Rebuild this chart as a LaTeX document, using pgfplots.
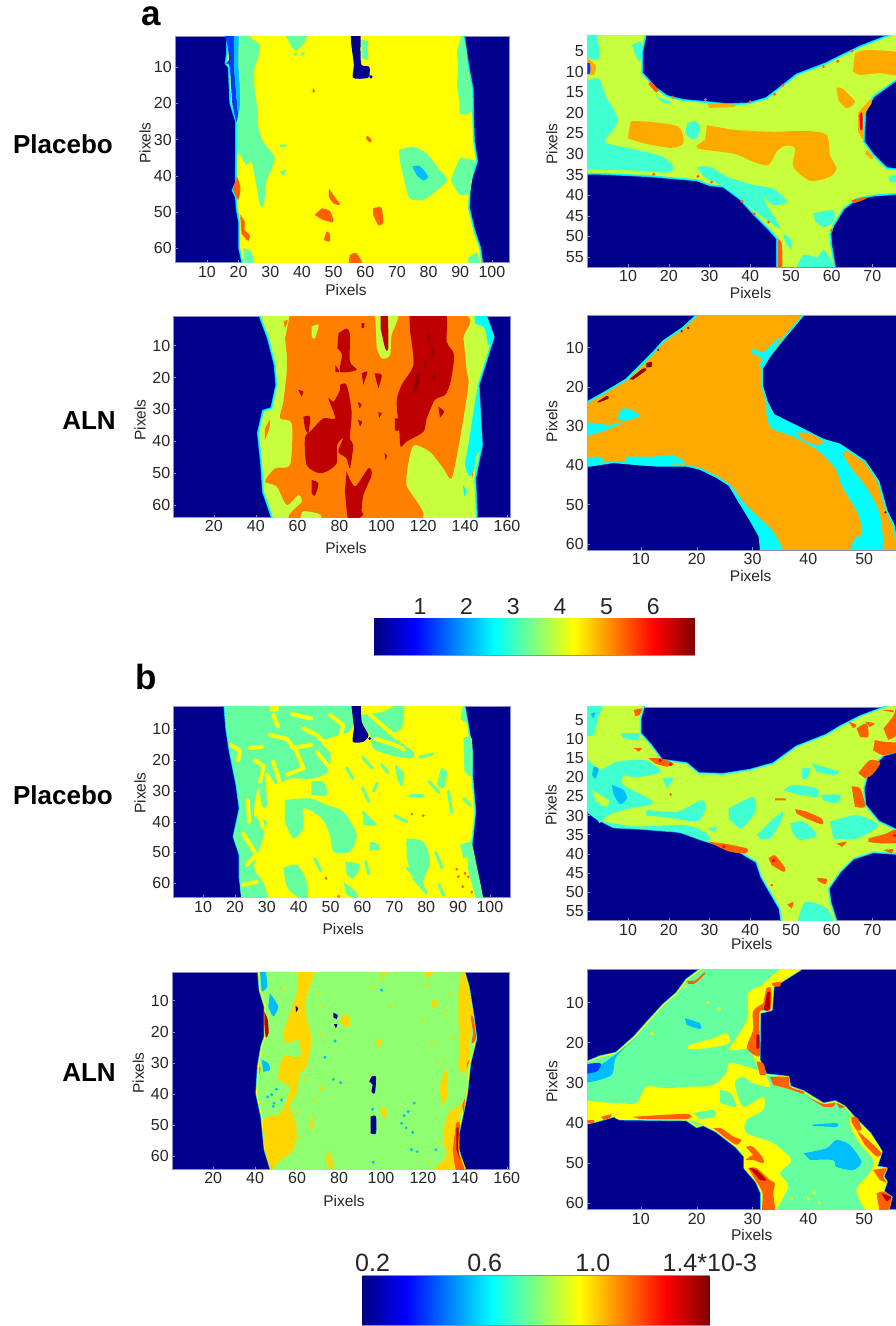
\documentclass[border=0pt]{standalone}
\usepackage{pgfplots}
\usepackage{fontspec}
\setmainfont{Liberation Sans}
\pgfplotsset{compat=1.18}
\definecolor{nv}{RGB}{0,0,140}
\definecolor{gA}{RGB}{102,255,160}
\definecolor{lm}{RGB}{200,255,60}
\definecolor{tl}{RGB}{64,255,208}
\definecolor{ora}{RGB}{255,170,0}
\definecolor{orb}{RGB}{255,128,0}
\definecolor{orc}{RGB}{255,96,0}
\definecolor{drd}{RGB}{191,0,0}
\definecolor{ddr}{RGB}{150,0,0}
\definecolor{cy}{RGB}{0,255,255}
\definecolor{sky}{RGB}{0,190,255}
\definecolor{bl}{RGB}{0,60,255}
\definecolor{gB}{RGB}{144,255,112}
\definecolor{gd}{RGB}{255,215,0}
\definecolor{yl}{RGB}{255,255,0}
\definecolor{frm}{RGB}{140,140,190}
\newcommand{\poly}[2]{\addplot[draw=none,fill=#1,smooth,tension=.45] coordinates {#2} --cycle;}
\newcommand{\body}[4]{\addplot[fill=#1,draw=#2,line width=1.2pt,line join=round,preaction={draw=#3,line width=2.6pt}] coordinates {#4} --cycle;}
\newcommand{\spots}[3]{\addplot[only marks,mark=*,mark size=#2,color=#1,mark options={draw=none,fill=#1}] coordinates {#3};}
\newcommand{\streaks}[3]{\addplot[color=#1,line width=#2,line cap=round,line join=round,unbounded coords=jump] coordinates {#3};}
\pgfplotsset{
 panel/.style={scale only axis,y dir=reverse,axis background/.style={fill=nv},
  axis line style={color=frm,line width=.5pt},
  tick style={color=frm,line width=.4pt},major tick length=2.5pt,tick align=inside,
  xtick pos=bottom,ytick pos=left,
  /pgf/number format/assume math mode=true,
  tick label style={font=\fontsize{16}{18}\selectfont,text=black!85},
  label style={font=\fontsize{15.5}{17}\selectfont,text=black!85},
  xlabel=Pixels,ylabel=Pixels,anchor=north west,clip=true},
 xl/.style 2 args={x label style={at={(axis description cs:#1,#2)},anchor=center}},
 yl/.style 2 args={y label style={at={(axis description cs:#1,#2)},anchor=center}},
 cbar/.style={scale only axis,anchor=north west,colormap/jet,
  axis line style={color=frm,line width=.5pt},tick style={color=black!60,line width=.5pt},
  major tick length=3pt,tick align=inside,ytick=\empty,ymin=0,ymax=1,
  xticklabel pos=upper,xtick pos=both,
  /pgf/number format/assume math mode=true},
}
\begin{document}
\begin{tikzpicture}[x=1pt,y=1pt]
\useasboundingbox (0,0) rectangle (896,1326);
% ---------- a, placebo, left
\begin{axis}[panel,at={(175.3pt,1289.7pt)},width=334pt,height=226pt,xmin=0,xmax=105.5,ymin=1.5,ymax=63.9,
 xtick={10,20,...,100},ytick={10,20,...,60},xl={.511}{-.1226},yl={-.0907}{.528}]
\body{yl}{cy}{sky}{(16.5,1)(16.5,6)(16,9)(17,10)(17.5,20)(19.3,25)(19.3,35)(19.2,42)(18.2,44)(19.3,46)(19.5,49)(20.3,53)(20.3,60)(21.5,65)(97,65)(96.2,60)(94.3,55)(92.7,49)(93,42)(95.2,36)(94.2,30)(94,24)(93.8,16)(92.5,10)(91,1)}
\poly{bl}{(15.6,1)(19,1)(18.5,8)(19.5,20)(20,25)(19.3,25)(18,20)(17.2,10)(16,9)(17,8)(16.5,4)}
\poly{sky}{(18.5,1)(20,1)(20,10)(21,20)(20.3,25)(19.5,20)(18.5,10)}
\poly{gA}{(20,0)(22.7,0)(24,2)(26.7,3.9)(26.1,7.5)(25,10.3)(25,15.8)(26.1,22.3)(26.1,26)(27.7,30.6)(31.4,35.2)(28.8,41.6)(28,48)(26.7,48)(25.6,42.5)(24,36)(22.4,37)(20.3,34)(19.5,33)(19.5,25)(20.5,20)(20,10)}
\poly{gA}{(34,0)(42,0)(40.5,3.5)(38,5.5)(36.5,4)}
\poly{gA}{(37,6.2)(38.5,6.2)(38,7)}
\poly{gA}{(39.5,6)(41,6)(40,7)}
\poly{gA}{(58.7,2.5)(61,3)(60.5,5)(61,8)(59,7.5)}
\poly{gA}{(90.7,0)(92,6)(92.5,12)(93.5,16)(93.7,22)(90,23)(89.8,20)(89,15)(89.3,10)(89,6)(89.5,4)}
\poly{gA}{(70.7,32.9)(75.1,32)(79.3,33.8)(83,37.9)(85.9,41.2)(81.5,44.8)(78.3,46.7)(74,46.2)(72.2,40.7)(70.9,36)}
\poly{sky}{(74.9,37.5)(77.2,37.3)(79.9,40.2)(78.3,41.3)(76.2,39.8)}
\poly{gA}{(87.2,40.7)(89.9,35.2)(91.5,35.2)(94.6,36)(94.1,38.9)(93,44.4)(89.9,45.3)(87.2,41.6)}
\poly{gA}{(33,38.9)(35,38.4)(34.5,39.8)(33.5,39.5)}
\poly{gA}{(33,31.4)(35,31.4)(35,32)(33,32)}
\poly{gA}{(21.4,60)(24,61)(25,65)(22,65)}
\poly{gA}{(92.5,62.8)(95.2,61.2)(96.2,65)(92.5,65)}
\poly{nv}{(55.3,0)(58.3,0)(58.5,5.7)(58.8,9.4)(61.2,9.9)(61.4,11.7)(60.8,13)(56.2,13)(56.4,9.4)(55.6,3.9)}
\spots{nv}{1.5pt}{(61.8,12.7)}
\poly{orc}{(19.5,40.2)(20.6,43.5)(19.8,46.7)(18.2,43.7)}
\poly{orc}{(20.5,50.8)(21.9,52.7)(21.9,55)(23.5,56.4)(23,58)(20.9,56)}
\poly{orc}{(48.5,43.5)(49.9,45.3)(52,48)(49.9,47.6)(48.5,45.8)}
\poly{orc}{(46.2,49)(48.8,49.7)(49.9,52.7)(46.7,52.2)(44,50.8)}
\poly{orc}{(47.7,55.4)(48.8,56)(48.8,58.2)(46.9,57.7)}
\poly{orc}{(62.5,49)(65.1,48.8)(65.6,53.1)(64.1,53.6)(62.5,50.8)}
\poly{orc}{(55.1,61.9)(57.2,61.4)(59.3,65)(54.6,65)}
\poly{orc}{(60.6,28.9)(62,30.1)(61.4,30.8)(60.2,29.7)}
\poly{orc}{(43.5,15.8)(44.2,16.8)(43.3,17)}
\end{axis}
% ---------- a, placebo, right
\begin{axis}[panel,at={(587.3pt,1290.7pt)},width=308.7pt,height=231.7pt,xmin=0,xmax=75.8,ymin=1.2,ymax=57.4,
 xtick={10,20,...,70},ytick={5,10,...,55},xl={.529}{-.111},yl={-.115}{.531}]
\body{lm}{cy}{sky}{(-1,0)(14.5,0)(13.4,5.2)(13.4,10.4)(16.7,14)(19.5,16)(23.6,17)(29.4,17.5)(34.3,18)(39.6,17.8)(44,16.5)(47.3,14)(51.4,10.8)(58.8,8)(62,6.4)(67,4)(73.5,1.5)(77,0)(77,11.5)(75.1,12.5)(70.2,16)(68.2,19.7)(68,23)(67.8,27)(70.2,30.3)(73.5,33.5)(77,33.9)(77,39.5)(70.2,40)(66.1,40.8)(62.9,43.2)(60.4,47.2)(59.6,49.3)(59.8,52)(60.8,58)(46.7,58)(46.7,50.5)(44.9,48.5)(40.8,44.4)(37.5,40.8)(33.4,37.8)(30.2,37.5)(26.9,36.3)(21.2,35.8)(15.5,35.3)(3.2,34.7)(-1,34.7)}
\poly{tl}{(-1,0)(2,0)(3,6.5)(1,7)(-1,6)}
\poly{tl}{(-1,12.5)(2.8,11.7)(4.4,15.7)(7.5,21.4)(6,24.6)(4.4,27.2)(12.2,29)(18.7,30.7)(21.2,33.5)(19,34.5)(12,34)(3,33.8)(-1,33.5)}
\poly{tl}{(11,3.6)(13.4,2.8)(13,7.6)(11.8,6)}
\poly{tl}{(17,16.1)(20.7,17.5)(18.7,17.7)}
\poly{tl}{(24.5,22.5)(26.5,22)(27.7,23.5)(27,26)(25.5,26.3)(24,25)}
\poly{tl}{(26.9,33.1)(30.2,33.1)(34.3,35.5)(40.8,37.5)(45.7,38.4)(49,41.6)(45.7,42.4)(43.3,40.4)(44.1,42.4)(47.3,48)(40.8,43.6)(36.7,40)(32.6,37.5)(28.5,35.5)}
\poly{tl}{(55.5,44.4)(60.4,43.6)(60.4,46.4)(58,47.7)(56,46.4)}
\poly{tl}{(48,49.3)(49.8,50.5)(50.2,53)(49,52.1)}
\poly{tl}{(51,58.5)(53,54.5)(56.3,55)(58,53.3)(59.6,55.3)(60.8,58.5)}
\poly{tl}{(73.9,35.5)(76.5,35.3)(76.5,36.7)(74.3,36.7)}
\poly{ora}{(10.7,22)(15.5,22.2)(22.4,23.4)(23.6,27.4)(20.4,28.5)(13.8,27.4)(9.9,26.2)}
\poly{ora}{(29.4,23)(36.7,24.2)(45.7,24.6)(53.9,24.4)(58.8,25.4)(59.6,30.3)(61.2,33.5)(59.6,35.5)(54.7,36.5)(50.6,33.1)(51,28.6)(48.6,28)(46.5,29.4)(44.5,32.7)(40.8,31.9)(35.9,29.9)(26.9,28.6)(28.9,26.6)}
\poly{ora}{(65.7,5.6)(68.6,4.8)(77,5.6)(77,10.8)(71.9,10.4)(67,10.8)(65.2,10)}
\poly{ora}{(61.2,14)(62.5,14)(65.7,17.3)(63.7,18.9)(61.6,16.9)}
\poly{ora}{(66.5,20)(69.4,16.9)(69.8,17.7)(67.8,21)(67.8,26.5)(66.5,24.6)}
\poly{red}{(66.8,20.5)(67.5,20)(67.6,24)(67,24)}
\poly{ora}{(-1,6)(2,8.4)(1.6,10.8)(-1,10.4)}
\poly{bl}{(-1,8)(.6,8)(.6,10.5)(-1,10.5)}
\poly{ora}{(29.4,17.7)(35.9,18)(35.9,18.6)(30,18.8)}
\poly{orc}{(46.8,50.5)(47.8,52)(47.8,58.5)(46.8,58.5)}
\poly{ora}{(68.6,29)(70.2,30.7)(69.8,31.3)(68.2,29.9)}
\poly{orc}{(64.9,41.2)(68.2,40.4)(68.6,40.8)(65.4,42)}
\poly{orc}{(15.5,12.5)(17.5,14.5)(16.8,15)(15,13)}
\spots{orc}{1.3pt}{(16.3,34.9)(27.2,35.4)(30.5,36.8)(21,16.2)(29,16.8)(40,17.3)(46,15.5)(48,13.3)(58,8.8)(61.5,7.5)(65,5)(60,48.5)(41,44.5)(38,41.5)(44.5,46.5)}
\end{axis}
% ---------- a, ALN, left
\begin{axis}[panel,at={(173.7pt,1009.3pt)},width=336.6pt,height=200.6pt,xmin=.8,xmax=161.6,ymin=.9,ymax=63.9,
 xtick={20,40,...,160},ytick={10,20,...,60},xl={.512}{-.1515},yl={-.100}{.485}]
\body{lm}{cy}{sky}{(41.7,0)(46,7.7)(49.2,16)(50,22.3)(47.6,29.7)(43.6,30.5)(41.2,37.5)(42.8,47.4)(43.6,55.8)(48.4,65)(145.5,65)(144.7,51.6)(147.9,41.2)(147.1,32.8)(146.3,22.3)(150.3,14)(153.5,7.2)(149.5,0)}
\poly{cy}{(147.1,28.6)(147.9,41.2)(145.5,44.3)(144,49.5)(142,51)(140,47.4)(141.6,41.2)(144,30.7)(146.3,22.3)}
\poly{cy}{(144.7,0)(149.5,0)(153.5,7.2)(151,9.8)(149.5,4.6)(144.7,3)}
\poly{cy}{(139,53.8)(140.8,55.8)(139.5,57.4)}
\poly{orb}{(56.4,0)(137.6,0)(139.2,7.7)(140.8,18.2)(141.6,22.3)(137.6,39)(133.6,51.6)(129.6,48.5)(123.2,43.3)(116,41.2)(113.7,44.3)(112,53.7)(118.2,65)(58,65)(62,59)(60.3,56.9)(54.8,60)(50,54.2)(44.4,52.7)(49.3,48.5)(56.4,47.4)(57.2,34.4)(51.6,32.8)(53.2,27.6)(54.8,18.2)(54.8,12.9)(54,7.7)}
\poly{lm}{(61.1,65)(62.7,62)(70.7,63)(71.5,65)}
\poly{lm}{(97,0)(108.1,0)(104.9,6.7)(104.1,13)(100.2,14)(97.8,10.8)}
\poly{lm}{(66.7,4)(70,3.5)(68.3,7.7)(66.7,7.2)}
\poly{drd}{(99.7,0)(102.9,0)(103.3,10.8)(101.8,10.8)(99.7,4.6)}
\poly{drd}{(113.4,0)(130.4,0)(131.2,8.7)(134.7,12.9)(133.1,21.3)(130.4,25.5)(125.6,27)(121.7,32.8)(120.1,37)(112.1,40.1)(109.2,41.7)(108.6,37)(107.3,27.6)(109.7,22.3)(115.3,16)(113.7,5.6)}
\poly{ddr}{(122,6.2)(123.5,6.8)(123,8.8)(121.6,8.2)}
\poly{ddr}{(123.6,10)(125.2,11)(125,13.6)(123.5,12.8)}
\poly{ddr}{(120.4,14.8)(121.6,15)(121,17)(120.2,16.6)}
\poly{ddr}{(116.8,19)(118.8,18.5)(117.4,23)(116,25)(115,24.5)}
\poly{ddr}{(124.6,18.8)(126,19.2)(125.6,21.3)(124.4,20.8)}
\poly{drd}{(80.3,22.3)(83.4,22.3)(85.8,30.7)(85,39)(86.6,41.2)(85,48.5)(83.4,45.4)(79.4,43.3)(81.8,39)(78.9,41.2)(78.6,47)(73.9,49.5)(69.9,50)(64.3,47.4)(63.5,39)(66.7,36.5)(72.3,32.8)(77.9,32.8)(74.7,26.5)(77.2,27.6)(80.3,23.9)}
\poly{drd}{(83.4,49.5)(87.4,54.2)(93.8,48.5)(95.4,50.6)(91.4,56.9)(90.6,62)(91.4,63.1)(87.4,65)(84.2,65)(82.6,55.8)}
\poly{drd}{(79.5,6.1)(83.4,4.6)(85,6.6)(85,15)(88.2,17.6)(80.3,18.2)(81.2,12.9)(79,10.8)}
\poly{drd}{(90.6,18.7)(93.3,18.2)(91.4,22.3)}
\poly{drd}{(96.7,18.7)(100.2,19.2)(98.6,23.4)}
\poly{drd}{(60.3,23.9)(62.7,24.4)(61.9,26)}
\poly{drd}{(66.7,52.2)(69.9,53.2)(68.3,57.1)(66.7,56.3)}
\poly{drd}{(62.7,32.3)(65.9,32.3)(65.1,37.5)(63.5,36)}
\poly{drd}{(88.8,27.6)(90.6,28.6)(89.5,29.7)}
\poly{drd}{(88.8,33.3)(90.9,33.9)(89.8,35.4)}
\poly{drd}{(98.6,30.9)(100.2,31.2)(99,32.6)}
\poly{drd}{(127.2,29.1)(130,30.7)(128,32.6)}
\poly{drd}{(106.5,32.8)(108.6,33.3)(108.1,36.8)(106.5,36.5)}
\poly{drd}{(90.5,3)(92,3)(91.5,4.5)(90.6,4.5)}
\poly{drd}{(101.5,43.8)(102.8,44.5)(102,46)}
\poly{drd}{(78,16)(80,18.2)(78,18.2)}
\poly{orb}{(44.4,36)(46.8,33.3)(46.5,36)(44.4,39.6)}
\poly{orb}{(53.2,2.5)(55.3,2)(54,4.6)}
\poly{orb}{(143.2,49.6)(143.8,50.2)(143.3,51.8)}
\end{axis}
% ---------- a, ALN, right
\begin{axis}[panel,at={(587.3pt,1010.7pt)},width=308.7pt,height=234.7pt,xmin=.4,xmax=55.7,ymin=1.75,ymax=61.6,
 xtick={10,20,...,50},ytick={10,20,...,60},xl={.529}{-.1095},yl={-.115}{.547}]
\body{ora}{cy}{cy}{(20.6,1)(39.4,1)(35.5,7.6)(33.1,11.9)(31.6,15.3)(31.6,19.5)(32.5,23.8)(33.7,27.2)(38.5,30.6)(42.7,33.6)(45.6,34.8)(50.1,39.1)(52.5,44.2)(54,51.8)(55.2,55.2)(56,62)(31.6,62)(31.3,58)(29.5,53.5)(27.7,49.3)(25.9,45)(23.6,42.9)(20.6,40.8)(18.2,40)(12.8,40)(5,39.1)(.9,40)(-1,40)(-1,25.1)(3.3,21.7)(7.4,18.2)(12.2,11.4)(14,8.5)(17.6,5)}
\poly{cy}{(30.1,10)(31.9,11.2)(34.9,7.2)(33.1,11.9)(31.6,15.3)(31.3,14.5)(31.6,12.7)(29.8,11.4)}
\poly{cy}{(32.5,23.8)(33.7,27.2)(38.5,30.6)(42.7,33.6)(45.6,34.8)(47.1,36.1)(46.2,37)(47.7,40.8)(50.1,45)(52.2,50.1)(53.1,55.2)(53.1,62.5)(47.7,62.5)(48.3,58.6)(49.5,57.8)(49.2,53.5)(48,50.1)(45.9,45)(45,41.2)(42,36.5)(37.3,32.7)(33.4,30.6)(32.5,27.2)}
\poly{ora}{(37.9,31.6)(40.3,31.9)(42.7,34)(41.5,34.8)(39.1,33.6)}
\poly{cy}{(26.5,45)(28.3,49.3)(31.3,53.5)(33.7,56.9)(35.5,62.5)(31.6,62.5)(31.3,58)(29.5,53.5)(27.7,49.3)}
\poly{ora}{(26.8,45.5)(28.3,46.3)(29.5,45.5)(29.2,48)(28.3,48.4)}
\poly{cy}{(-1,28.7)(4.2,29.7)(6.8,29)(3.8,31)(-1,33.1)}
\poly{cy}{(6.2,25.9)(7.7,25.5)(9.8,27.4)(6.8,28.7)(5.9,28)}
\poly{cy}{(-1,38.2)(2,37.8)(3.5,38.7)(1.5,40)(-1,40)}
\poly{cy}{(7.1,37.8)(12.2,37.8)(15.5,37.4)(17.9,39.1)(15.8,39.8)(9.8,40)(7.4,39.5)}
\poly{ddr}{(8,18)(10.4,15.3)(11,15.7)(8.6,18.2)}
\poly{ddr}{(11,14)(11.9,13.6)(11.9,14.9)(11,15)}
\poly{ddr}{(2.2,23.8)(3.9,22.3)(4.2,23)(2.4,24)}
\spots{ddr}{.9pt}{(13.1,10.6)(17.3,5.8)(18.5,5)(51,39.6)(53.8,52)}
\end{axis}
% ---------- colour bar a
\begin{axis}[cbar,at={(374pt,707.7pt)},width=320.7pt,height=36.7pt,xmin=.014,xmax=6.89,xtick={1,2,...,6},
 tick label style={font=\fontsize{23}{25}\selectfont,text=black!85}]
\addplot[surf,shader=interp,point meta=x,mesh/rows=2,mesh/cols=6] coordinates {(.014,0)(.87,0)(2.58,0)(4.29,0)(6.0,0)(6.89,0)(.014,1)(.87,1)(2.58,1)(4.29,1)(6.0,1)(6.89,1)};
\end{axis}
% ---------- b, placebo, left
\begin{axis}[panel,at={(173.7pt,619.3pt)},width=336.3pt,height=191pt,xmin=.8,xmax=106.3,ymin=2.6,ymax=64.7,
 xtick={10,20,...,100},ytick={10,20,...,60},xl={.504}{-.164},yl={-.100}{.548}]
\body{yl}{tl}{sky}{(16.7,1)(17.4,9.7)(18.5,17.3)(20.6,28)(21.6,35.7)(19.7,44.8)(21.6,50.8)(21.6,58.4)(22.6,66)(97.4,66)(95.9,59.4)(93.2,50.8)(94.3,46.5)(95.3,36.7)(94.3,24.8)(94.3,17.3)(93.2,9.7)(91.7,1)}
\poly{gA}{(16.7,1)(56,1)(56.5,10)(52,12)(47,14)(50,18)(49,24)(44,26)(37,26)(33,28)(30,24)(27,30)(26,38)(30,40)(28,48)(26,55)(29,60)(30,66)(22.6,66)(21.6,58.4)(21.6,50.8)(19.7,44.8)(21.6,35.7)(20.6,28)(18.5,17.3)(17.4,9.7)}
\poly{yl}{(31,1)(33.5,1)(33.5,4)(31,4)}
\poly{gA}{(24.7,22.6)(28.9,20.5)(30,34.6)(28.4,34.6)(27.3,28)(24.7,29.1)}
\poly{gA}{(35.7,32.9)(43.6,32.4)(48.8,34.6)(54,36.7)(58.2,44.3)(56.1,49.7)(50.9,49.7)(49.8,44.3)(47.2,38.9)(41.5,35.7)(41.5,42.1)(38.3,45.4)(35.7,40)}
\poly{gA}{(73.9,45.4)(79.1,46.5)(81.2,53)(79.1,59.5)(80.2,63.8)(76,58.4)(73.9,51.9)}
\poly{gA}{(54.6,53)(59.2,54)(57.2,58.4)(55.1,57.3)}
\poly{gA}{(54,59.5)(58.2,63)(58.2,65)(55.1,63.8)}
\poly{gA}{(35.2,55)(39.4,54)(42.5,59.5)(42.5,66)(37.3,62.6)(35.8,59.5)}
\poly{gA}{(60.3,36.7)(64.5,41)(60.3,41)}
\poly{gA}{(62.4,46.5)(65.5,47.6)(62.4,49.7)}
\poly{gA}{(44,27)(47.8,27)(48.8,31.3)(44,31.3)}
\poly{gA}{(59.2,5.3)(66.6,4.2)(72.9,1)(72.3,9.7)(68.7,11.8)(76,17.3)(75,19.4)(68.7,18.3)(63.4,16.2)(62.4,11.8)(60.3,8.6)}
\poly{gA}{(91.7,12.9)(94.3,12.9)(94.3,24.8)(92,23.7)}
\poly{gA}{(90.6,47.6)(94.3,46.5)(93.2,50.8)(91.7,52)}
\poly{gA}{(91.7,1)(92.5,7.5)(90.7,6.5)}
\poly{gA}{(84.5,23.2)(86.5,23.7)(85.5,29.1)(83.4,28)}
\poly{gA}{(70.3,22)(73,24)(72.5,28)(71,26.5)}
\poly{gA}{(94,45)(96,55)(98,66)(96,66)(93,55)}
\streaks{yl}{4pt}{(18.7,15)(21.6,17)(21,20)(nan,nan)(24.7,16)(28.4,15.6)(nan,nan)(26.3,20)(29,22)(27.9,27)(nan,nan)(31,11.8)(36.2,13)(39.4,17.3)(41.5,22.6)(36.2,24.8)(nan,nan)(32,5.3)(33.5,9)(nan,nan)(32,20.5)(34,27)(33,30)(nan,nan)(45.7,17.3)(49.8,22.6)(54,21.6)(nan,nan)(41.5,9.7)(45.7,11.8)(48.8,15)(nan,nan)(49.8,5.3)(54,8.6)(53,13)(nan,nan)(22.6,44)(26.8,50.8)(23.7,54)(nan,nan)(26.8,35.6)(29,42)(31,43.2)(nan,nan)(32,50)(34,56)(33,62)(nan,nan)(22.6,60.5)(26.8,59.5)(nan,nan)(62.4,5.3)(69.7,11.8)(nan,nan)(64,13)(70,15)(73,16.5)(nan,nan)(38,5)(44,6.5)(nan,nan)(24,33)(24.5,40)(nan,nan)(44,37)(46,41)(45,46)(nan,nan)(38,16)(44,15)}
\streaks{gA}{3pt}{(70.7,22)(72.3,28)(nan,nan)(81,27)(84,30.5)(nan,nan)(85,23)(85.5,28)(nan,nan)(75,31.5)(79,31.5)(nan,nan)(60,29)(62,33.5)(nan,nan)(64.5,27.5)(63.5,30)(nan,nan)(60.3,37)(62.4,41)(nan,nan)(55,22.5)(57,26)(nan,nan)(91.7,32.5)(93.8,34.5)(nan,nan)(74,47)(77,50)(nan,nan)(74,55)(78,59.5)(nan,nan)(76,58.4)(80,63)(nan,nan)(83,50)(85,55)(nan,nan)(84,60.5)(85.5,64)(nan,nan)(61,53)(62,57)(nan,nan)(63,47)(65,49)(nan,nan)(60,19)(63,22.5)(nan,nan)(66,21.5)(68,24)(nan,nan)(78,19)(82,18)(nan,nan)(70,38)(74,40)(nan,nan)(45,52)(47,56)(nan,nan)(87,30)(88,37)}
\poly{nv}{(56.3,0)(59.2,0)(59.8,7.5)(61.9,11.8)(60.3,14)(57,14)(57.4,9.7)}
\spots{nv}{1.2pt}{(62.3,13)}
\spots{orc}{1.2pt}{(79.1,38)(75.5,37.5)(89.6,55.4)(90.1,57.9)(92.2,56.8)(93.2,57.9)(91.5,61.1)(94.3,62.9)(48.6,58.4)(52.5,64.3)}
\end{axis}
% ---------- b, placebo, right
\begin{axis}[panel,at={(587.3pt,619pt)},width=308.7pt,height=213.7pt,xmin=0,xmax=75.8,ymin=1.6,ymax=57.5,
 xtick={10,20,...,70},ytick={5,10,...,55},xl={.5325}{-.109},yl={-.1176}{.541}]
\body{lm}{tl}{sky}{(-1,0)(14.2,0)(13,4.6)(13,8.5)(15.5,11.5)(18.3,15.5)(24.4,16.4)(27.3,19)(33.4,19.2)(40,18.1)(45.7,16.4)(51.4,12)(58.8,8.9)(62,6.8)(67,4.1)(72.7,1.8)(77,0)(77,12.9)(72.7,14.2)(69,18.1)(67.8,22.9)(68.2,27.3)(71.5,31.6)(75.8,33.8)(77,36.8)(77,40)(70.2,39.5)(65.3,41.2)(62,44.7)(59.2,49)(59.6,52.6)(61.2,58)(47.8,58)(47.3,54.3)(44.9,49.9)(42.8,46)(41.6,42.1)(37.5,39.5)(32.6,37.7)(28.5,36.4)(22.8,34.2)(13.8,33.4)(6.5,33)(2.4,30.8)(-1,28.1)}
\poly{tl}{(-1,0)(3.8,0)(2.5,5)(1.5,9)(-1,9)}
\poly{tl}{(-1,14)(3,18)(7,16)(14,15.5)(18,18.5)(12,20)(9,19.5)(8.8,22)(15,25.5)(15.8,27)(9,28.5)(5,30)(3,32)(2.4,30.8)(-1,28.1)}
\poly{lm}{(1.1,23.3)(5.2,26)(4.4,27.7)(2,26)}
\poly{tl}{(14.5,28.5)(22,29)(28,26)(29,28)(27,31.5)(20,30.5)(14.5,30)}
\poly{tl}{(3.5,31.5)(12,32.8)(24,32.5)(29,34.5)(30,36.5)(22,34.2)(14,33.4)(6.5,33)(3,31)}
\poly{sky}{(6,22)(8.9,23.3)(9.7,25.5)(8.1,27.1)(6.5,24.6)}
\poly{sky}{(1.5,17.2)(2.8,17.7)(2,20.3)(1.2,19.4)}
\poly{sky}{(.8,3.5)(2,3)(1.5,4.5)}
\poly{tl}{(34.7,28.1)(40.8,25.1)(41.2,29)(39.2,32)(37.5,33.4)(34.7,30.8)}
\poly{tl}{(59.6,31.6)(66.1,29.9)(71.5,32.5)(66.1,36)(60.4,36)}
\poly{tl}{(49.8,32)(53,31.6)(56.3,35.1)(52.2,36.4)(50.2,34.2)}
\poly{tl}{(41.6,35.1)(45.7,30.8)(48.2,29)(47.3,32)(44.9,36)(42.4,36)}
\poly{tl}{(48.2,23.3)(50.6,22)(56.3,22.9)(56.3,25.1)(50.6,24.2)}
\poly{tl}{(52.7,17.7)(54.7,17.7)(53.9,20.3)(52.7,20.3)}
\poly{tl}{(55.1,16.4)(61.7,18.5)(60.4,19.4)(56.3,18.5)}
\poly{tl}{(57.2,24.6)(62.1,24.6)(61.2,26.8)(58,26)}
\poly{tl}{(8.1,8.5)(12.6,8.5)(12.2,10.3)(8.9,9.8)}
\poly{tl}{(18.5,20.3)(21.2,20.1)(19.5,22.9)}
\poly{tl}{(29.4,33.4)(31.8,33)(31,34.2)}
\poly{tl}{(51.4,58.5)(53.5,52.6)(58.8,54.3)(60.8,58.5)}
\poly{orc}{(11.4,2.4)(13.4,2)(12.8,3.7)(11.8,3.9)}
\poly{orc}{(11.4,12.4)(13.4,12.4)(12.6,13.3)}
\poly{orc}{(15,15)(17.9,15)(21.2,16.4)(19.5,17.2)(16.7,16.4)}
\poly{orc}{(29.8,36.9)(33.4,37.3)(39.2,38.6)(38.8,39.9)(35.1,39.5)(32.2,38.2)}
\poly{orc}{(44.5,41.2)(46.1,40.4)(48.6,43.8)(48.2,44.7)(45.3,43)}
\poly{orc}{(51,28.3)(53.9,29)(57.6,30.8)(57.6,32.3)(53.9,30.8)(51.4,29.5)}
\poly{orc}{(46.1,25.5)(48.6,25.5)(48.6,26)(46.1,26)}
\poly{orc}{(56.4,46.3)(58.8,46.6)(58.4,48)(56.7,47.1)}
\poly{orc}{(49.1,53.3)(50.6,52.6)(50.2,54.3)}
\poly{orc}{(61.2,37.3)(63.7,36.9)(62.5,38.2)}
\poly{orc}{(69,36)(73.4,34.7)(75.1,33.8)(77,34.1)(77,36.8)(72.7,37.3)(69,36.9)}
\poly{orc}{(72.7,39)(75.1,38.8)(74.7,39.9)}
\poly{orc}{(64.9,22.4)(67,22.9)(68.2,27.7)(65.7,27.7)}
\poly{orc}{(66.5,18.9)(69.4,15.5)(71.9,16)(71.5,17.2)(69.9,19.4)(68.2,20.3)}
\poly{orc}{(70.6,10.2)(72.7,10.7)(77,11.1)(77,12.9)(72.7,14.2)(70.2,12.9)}
\poly{orc}{(72.7,7.2)(75.1,4.1)(75.8,2)(77,2)(77,8)(73.9,10.2)}
\poly{orc}{(64.1,5.4)(66.1,6.3)(65.3,7.2)}
\poly{orc}{(66.1,7.2)(68.6,5.9)(69,9.4)(67,9.4)}
\poly{orc}{(68.2,5.4)(70.6,5.9)(69.4,6.8)}
\poly{orc}{(72.3,2.4)(75.1,2.4)(75.1,3)}
\spots{red}{1.5pt}{(17.9,15.6)(20.5,16.6)(33.5,38.1)(45.7,41.8)(75.5,35.2)}
\spots{orc}{1.1pt}{(45.3,48.2)(20.5,24.5)}
\end{axis}
% ---------- b, ALN, left
\begin{axis}[panel,at={(172.3pt,353.3pt)},width=337pt,height=196.3pt,xmin=.5,xmax=161.2,ymin=1,ymax=64.2,
 xtick={20,40,...,160},ytick={10,20,...,60},xl={.5095}{-.1615},yl={-.1009}{.489}]
\body{gB}{yl}{sky}{(41.5,0)(42.3,6.6)(44.7,11.9)(44.7,21.6)(43.1,24.8)(41.5,31.2)(40.7,39.8)(43.1,47.3)(44.7,58)(47.9,65)(140,65)(136.9,58)(136.9,52.7)(139.3,45.2)(140.9,39.8)(142.4,30.2)(145.3,22.1)(144,15.1)(141.7,5.5)(139.3,0)}
\poly{gd}{(60.6,0)(68.5,0)(64.5,8.7)(64.5,15.1)(66.9,22.7)(64.5,31.2)(61.4,33.4)(59.8,39.8)(56.6,44.1)(59.8,50.6)(58.2,58)(50.2,62.4)(47.9,65)(44.7,58)(43.9,48.4)(51.8,46.3)(55,42)(56.6,37.7)(51,35)(53.4,28)(61.4,28)(60.6,22.7)(55,23.7)(53.4,20.5)(58.2,10.9)(59.8,7.6)}
\poly{gd}{(138.5,0)(139.3,0)(141.7,5.5)(144,15.1)(142.4,22.7)(141.7,31.2)(139.3,33.4)(136.9,31.2)(137.7,23.7)(136.9,16.2)(136.9,7.6)}
\poly{gd}{(140.1,42)(137.7,46.3)(136.9,52.7)(136.9,58)(140,65)(125,65)(131.2,60.2)(129.7,54.9)(131.3,47.3)(136.9,44.1)}
\poly{orc}{(135.8,49.5)(137.7,49.5)(136.9,58)(140,65)(136,65)(134.2,58)}
\poly{drd}{(136,51)(137,51)(136.9,58)(137.8,61)(136,58)}
\poly{drd}{(44.4,13.5)(46,16.2)(46.4,20.5)(45.1,21.8)(44.4,17.3)}
\poly{orc}{(142.8,15.1)(144,15.1)(145.3,22.1)(143.2,23.7)(144,20.5)}
\poly{orc}{(42,31.2)(42.6,31.8)(42,33.9)}
\poly{orc}{(141,30.2)(142.2,29.1)(141,31.8)}
\poly{orc}{(138.8,44)(140,41.5)(139.5,46.5)}
\poly{nv}{(59.3,11.7)(60.6,12.5)(59.5,13.7)}
\poly{nv}{(77.3,13.9)(79.3,14.6)(78.9,15.9)(77.3,15.4)}
\poly{nv}{(77.6,17.6)(79.2,17.6)(78.5,18.9)}
\poly{nv}{(95.5,34.5)(97.6,34.5)(97.1,39.8)(95.5,39.3)(96,37.1)(94.4,36)}
\poly{nv}{(95.1,47.3)(97.6,47.3)(97.6,52.7)(95.1,52.7)}
\poly{gd}{(81.2,15.1)(84.4,14.6)(85.5,17.8)(82.8,18.4)(80.4,16.8)}
\poly{gd}{(99.5,44.6)(102.4,44.6)(102.4,47.9)(100.3,47)}
\poly{gd}{(74.1,58.6)(76.5,60.2)(77.3,65)(74.1,62.4)}
\poly{gd}{(99.5,0)(101.9,0)(101.4,3.4)}
\poly{gd}{(124.2,9.8)(127.3,10.3)(125.8,12.5)(124.2,11.4)}
\poly{gd}{(120.3,0)(125.9,0)(122,2.8)}
\poly{gd}{(97.9,22.7)(100.3,22.7)(99.5,24.8)(97.9,24.6)}
\poly{gd}{(70,37.5)(73,38)(71,39)}
\poly{gd}{(66,50)(68,46)(67,53)}
\poly{gd}{(128,38)(131,32)(132,40)(129,44)}
\poly{sky}{(42.3,0)(44.7,0)(45.8,5.5)(43.1,7.1)}
\poly{sky}{(47,7.6)(51,11.9)(48.6,15.1)(46.3,11.9)}
\poly{sky}{(43.1,29)(46.3,30.2)(47,32.3)(43.9,32.9)}
\spots{sky}{1.3pt}{(77.3,35.3)(80.8,36.4)(73.3,28.2)(78.1,23)(115.1,52.4)(115.8,43)(113,45.7)(109.9,49.5)(114.6,58)(117.3,58.6)(126.2,58)(96.3,62)(47.9,40.3)(50.2,38.5)(52.6,42)(48.6,44)(100.3,6.6)(111,47)(112,51)(46,41)(49,43)(96,45)}
\spots{gd}{1.4pt}{(53,6)(56,18)(70,8)(71,12)(72,21)(64,35)(68,42)(61,54)(60,46)(120,16)(122,5)(124,24)(128,30)(133,8)(131,14)(134,22)(133,45)(100,3)(128,56)(123,62)(96,6)(105,12)}
\end{axis}
% ---------- b, ALN, right
\begin{axis}[panel,at={(587.3pt,356.7pt)},width=308.7pt,height=240.4pt,xmin=.4,xmax=55.7,ymin=1.7,ymax=61.7,
 xtick={10,20,...,50},ytick={10,20,...,60},xl={.5325}{-.105},yl={-.115}{.532}]
\body{gA}{yl}{sky}{(21.5,1)(39.4,1)(33.7,6)(33.4,11.8)(31.3,12.5)(31.2,24.3)(32.4,28)(36.4,28.6)(36.7,31)(39.1,32.2)(42.7,35.3)(44.8,34.7)(46.5,36)(48.6,39.3)(51,42.6)(53.1,47.2)(52.2,51)(54,51.4)(53.4,53.4)(54,54.7)(53.4,57.2)(54.9,58.6)(54.1,62)(31.6,62)(31.6,57.6)(30.7,54.7)(28.6,51.3)(28.6,48.4)(27.1,46)(25.9,44.7)(23.6,42.2)(21.2,40.5)(20,41)(18.2,39.3)(6.2,39.1)(5.3,38.3)(1.8,39.7)(.4,40.1)(-1,40)(-1,25.6)(2.7,23.5)(5.6,22.6)(8.9,18.5)(11,15.2)(14,10.6)(16.4,7.7)(18.2,4.3)(20.6,1.8)}
\poly{yl}{(35.5,1)(39.1,1)(33.7,6)(33.4,11.8)(31.3,12.5)(31.2,24.3)(32.4,28)(31.3,27.6)(29.5,21.8)(25.9,21.8)(27.7,17.7)(29.2,13.5)(29.2,7.7)(31.3,6)}
\poly{yl}{(-1,34.3)(5,35.1)(6.5,35.1)(9.2,35.1)(11,31)(14.6,31.4)(18.8,31)(23,30.6)(25.3,27.6)(25.9,25.1)(28.9,26)(31.9,27.6)(33.1,31)(30.1,30.1)(28.3,28.5)(26.8,30.1)(28.3,36)(31.9,33.5)(31.9,36.8)(28.9,39.3)(28.9,42.6)(33.7,45.1)(36.9,49.3)(34.9,52.6)(36.4,55.9)(33.7,62.5)(31.6,62.5)(31.6,57.6)(30.7,54.7)(28.6,51.3)(28.6,48.4)(27.1,46)(23.6,42.2)(21.2,40.5)(18.2,39.3)(6.2,39.1)(5.3,38.3)(1.8,39.7)(-1,40.1)}
\poly{gA}{(19.4,37.6)(23,36.8)(23.3,38.5)(20.6,39.1)}
\poly{gA}{(24.2,31.8)(26,32.6)(27.1,36)(24.2,35.1)}
\poly{yl}{(18.5,20.6)(23,18.9)(25.3,17.7)(25.9,20.1)(21.8,21.4)(18.5,21.6)}
\poly{yl}{(47.3,38.5)(48.6,39.3)(51,42.6)(53.1,47.2)(52.2,51)(54,51.4)(53.4,53.4)(54,54.7)(53.4,57.2)(54.9,58.6)(54.1,62.5)(50.7,62.5)(48.6,56.8)(51,52.6)(51.6,49.3)(49.2,45.1)(47.7,41.8)}
\poly{orc}{(32.5,6.4)(33.3,6.4)(33.2,11.8)(31.3,12.2)(31.3,19.3)(31.2,23.5)(29,21.4)(30.1,16.8)(30.1,12.2)(31.9,10.2)}
\poly{drd}{(32.6,7.5)(33.2,7.5)(33,11.8)(32,11.8)}
\poly{drd}{(30.7,18.1)(31.2,18.1)(31.2,21.4)(30.7,21.4)}
\poly{orc}{(30.7,24.7)(31.9,25.1)(32.4,28)(31.3,28)}
\poly{orc}{(33.1,28.6)(36.4,28.6)(36.7,31)(39.1,32.2)(39.1,32.8)(36.1,31.4)(33.7,30.6)}
\poly{orc}{(39.7,33.5)(42.7,35.3)(44.8,35)(44.4,36)(42.7,36)}
\poly{orc}{(45,35)(46.5,36)(45.6,36.4)}
\poly{orc}{(8.6,38.5)(18.2,37.8)(18.2,39.1)(9.8,39.1)}
\poly{orc}{(2.9,38.5)(4.7,37.9)(4.4,38.9)(3.2,39.2)}
\poly{orc}{(-1,39.6)(1.5,39.3)(1.5,40)(-1,40.1)}
\poly{orc}{(23,41.4)(24.4,41.4)(26.5,43.4)(28,44.3)(27.1,45.5)(25.3,43.9)}
\poly{orc}{(28.8,46)(30.1,46)(31.9,48.9)(31.9,50.1)(30.1,49.3)(28.7,49.3)(30.1,48)}
\poly{orc}{(29.2,51.3)(30.7,51.3)(33.1,54.3)(34,55.1)(33.7,57.6)(34,62.5)(31.8,62.5)(31.8,57.6)(30.7,54.7)}
\poly{drd}{(29.5,51.3)(30.7,51.8)(32.5,54.3)(31.3,54.3)}
\poly{orc}{(18.2,4.5)(19.7,4.5)(21.2,2.7)(21.6,2.7)(19.7,5.2)(18.5,5.3)}
\poly{orc}{(33.4,5.2)(35,4.8)(34.9,6)(33.7,5.9)}
\poly{orc}{(47.7,38.5)(48.9,38.9)(49.5,41.8)(48.6,41.8)(47.7,39.7)}
\poly{orc}{(48.6,41.8)(51,44.7)(53.1,47.6)(52.2,48.4)(50.1,45.5)}
\poly{orc}{(51.6,51.8)(54,51.4)(53.4,53.4)(54,54.9)(52.8,54.3)}
\poly{orc}{(52.2,57.6)(53.4,57.2)(54.9,58.6)(54.1,62.5)(52.8,62.5)}
\poly{drd}{(53.1,57.6)(54.9,58.6)(54,59.7)}
\poly{sky}{(39.1,47.6)(43.2,46.4)(45,44.3)(47.4,45.5)(49.5,49.7)(48,51.8)(45,51)(44.4,49.3)(40.3,49.3)}
\poly{sky}{(40.6,40.5)(45,40.1)(45,41)(40.9,40.8)}
\poly{sky}{(17.9,13.9)(20.6,15.2)(20.6,16.6)(18.2,15.6)}
\poly{sky}{(-1,27.6)(3.3,25.1)(8,20.1)(9.2,18.6)(5.6,23.5)(4.8,28)(1.5,29.7)(-1,30.1)}
\poly{bl}{(-1,25.6)(2.7,25.1)(2.1,27.2)(-1,28)}
\spots{yl}{1.5pt}{(12,17.8)(18,6)(24,11.5)(22,10)(41,57.5)(40,59)(37,59)(42,60)}
\end{axis}
% ---------- colour bar b
\begin{axis}[cbar,at={(362.3pt,50.3pt)},width=346.7pt,height=49.3pt,xmin=.147,xmax=1.43,xtick={.2,.6,1,1.4},xticklabels={\hspace{-8pt}0.2,0.6,1.0,\hspace{18pt}1.4*10-3},
 minor xtick={.4,.8,1.2},tick label style={font=\fontsize{25}{27}\selectfont,text=black!85}]
\addplot[surf,shader=interp,point meta=x,mesh/rows=2,mesh/cols=6] coordinates {(.147,0)(.307,0)(.628,0)(.949,0)(1.27,0)(1.43,0)(.147,1)(.307,1)(.628,1)(.949,1)(1.27,1)(1.43,1)};
\end{axis}
% ---------- text
\node[font=\bfseries\fontsize{35}{37}\selectfont,anchor=base] at (151,1300) {a};
\node[font=\bfseries\fontsize{35}{37}\selectfont,anchor=base] at (146,636) {b};
\node[font=\bfseries\fontsize{26}{28}\selectfont] at (63,1182) {Placebo};
\node[font=\bfseries\fontsize{26}{28}\selectfont] at (89,905) {ALN};
\node[font=\bfseries\fontsize{26}{28}\selectfont] at (63,531) {Placebo};
\node[font=\bfseries\fontsize{26}{28}\selectfont] at (89,253) {ALN};
\end{tikzpicture}
\end{document}
